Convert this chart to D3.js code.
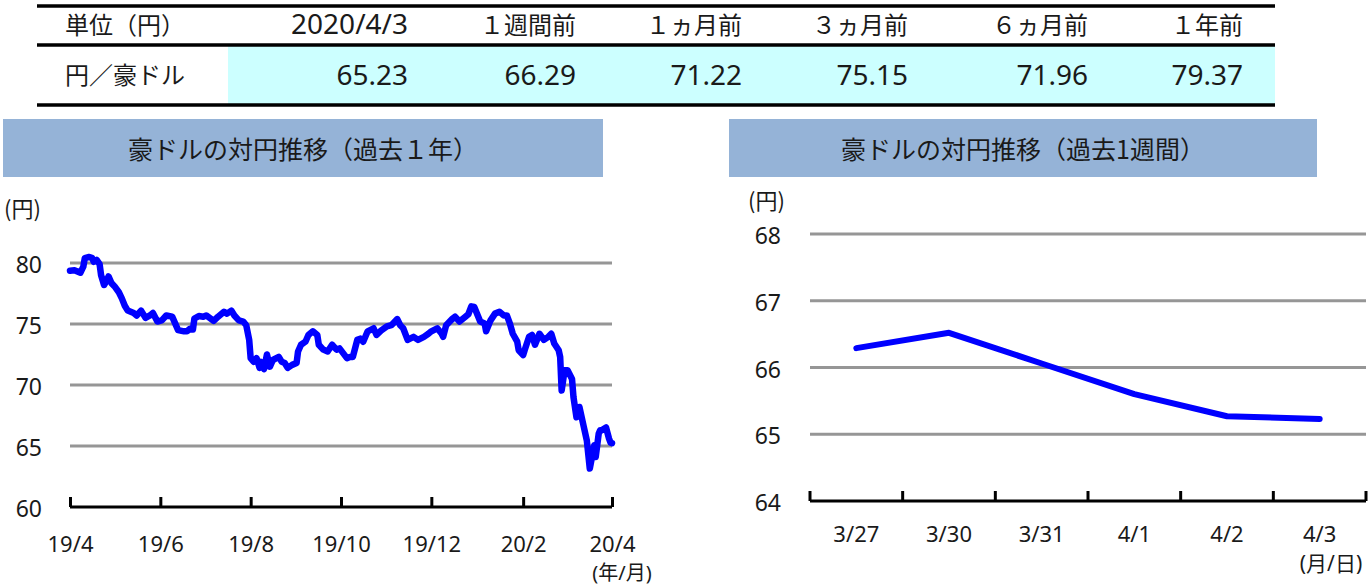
<!DOCTYPE html>
<html><head><meta charset="utf-8">
<script src="https://cdn.jsdelivr.net/npm/d3@7"></script>
<style>
body{margin:0;background:#fff;}
svg{display:block;font-family:"Noto Sans","Noto Sans CJK JP",sans-serif;}
</style></head>
<body>
<svg id="c" width="1369" height="587"></svg>
<script>
// ---- table data ----
const tableHeaders = ["単位（円）","2020/4/3","１週間前","１ヵ月前","３ヵ月前","６ヵ月前","１年前"];
const tableRowLabel = "円／豪ドル";
const tableValues = [65.23, 66.29, 71.22, 75.15, 71.96, 79.37];

// ---- 1-year series ----
const yearDates = ["2019-04-03","2019-04-06","2019-04-10","2019-04-12","2019-04-13","2019-04-16","2019-04-18","2019-04-19","2019-04-21","2019-04-23",
"2019-04-24","2019-04-26","2019-04-28","2019-04-29","2019-05-01","2019-05-03","2019-05-06","2019-05-08","2019-05-10","2019-05-12",
"2019-05-16","2019-05-18","2019-05-21","2019-05-24","2019-05-27","2019-05-29","2019-06-01","2019-06-04","2019-06-07","2019-06-11",
"2019-06-13","2019-06-15","2019-06-19","2019-06-21","2019-06-23","2019-06-25","2019-06-26","2019-06-29","2019-07-02","2019-07-04",
"2019-07-09","2019-07-12","2019-07-16","2019-07-18","2019-07-21","2019-07-23","2019-07-26","2019-07-29","2019-07-31","2019-08-02",
"2019-08-03","2019-08-05","2019-08-07","2019-08-09","2019-08-10","2019-08-12","2019-08-14","2019-08-16","2019-08-18","2019-08-22",
"2019-08-24","2019-08-26","2019-08-28","2019-08-31","2019-09-03","2019-09-04","2019-09-06","2019-09-09","2019-09-11","2019-09-14",
"2019-09-17","2019-09-18","2019-09-21","2019-09-24","2019-09-27","2019-09-30","2019-10-02","2019-10-07","2019-10-09","2019-10-11",
"2019-10-14","2019-10-16","2019-10-18","2019-10-21","2019-10-25","2019-10-27","2019-10-30","2019-11-03","2019-11-06","2019-11-10",
"2019-11-12","2019-11-14","2019-11-17","2019-11-21","2019-11-24","2019-11-28","2019-12-01","2019-12-03","2019-12-07","2019-12-10",
"2019-12-11","2019-12-13","2019-12-17","2019-12-19","2019-12-22","2019-12-26","2019-12-28","2019-12-30","2020-01-01","2020-01-05",
"2020-01-08","2020-01-09","2020-01-12","2020-01-15","2020-01-18","2020-01-21","2020-01-23","2020-01-25","2020-01-27","2020-01-30",
"2020-01-31","2020-02-03","2020-02-04","2020-02-07","2020-02-09","2020-02-11","2020-02-14","2020-02-17","2020-02-20","2020-02-22",
"2020-02-24","2020-02-27","2020-02-28","2020-02-29","2020-03-02","2020-03-04","2020-03-07","2020-03-08","2020-03-10","2020-03-12",
"2020-03-15","2020-03-17","2020-03-19","2020-03-22","2020-03-23","2020-03-25","2020-03-26","2020-03-27","2020-03-30","2020-03-31",
"2020-04-01","2020-04-02","2020-04-03"];
const yearValues = [79.37,79.4,79.2,79.7,80.4,80.5,80.4,80.1,80.25,79.9,
79.0,78.2,78.6,78.9,78.35,78.1,77.6,77.1,76.5,76.1,
75.9,75.7,76.1,75.5,75.7,75.9,75.2,75.3,75.7,75.6,
75.05,74.5,74.4,74.4,74.6,74.55,75.45,75.65,75.6,75.7,
75.25,75.6,76.0,75.85,76.1,75.7,75.3,75.2,74.9,73.7,
72.2,71.9,72.2,71.4,71.9,71.3,72.5,71.5,72.05,72.3,
71.9,71.8,71.4,71.65,71.8,72.75,73.3,73.55,74.1,74.4,
74.1,73.3,72.9,72.75,73.3,72.9,73.0,72.2,72.3,72.3,
73.7,73.8,73.55,74.4,74.65,74.1,74.45,74.8,74.9,75.4,
74.9,74.65,73.7,73.95,73.7,73.95,74.2,74.4,74.65,74.2,
73.95,74.9,75.4,75.6,75.2,75.6,75.8,76.45,76.4,75.2,
75.05,74.4,75.3,75.85,76.0,75.7,75.7,75.05,74.2,73.55,
72.85,72.45,72.85,73.95,74.1,73.3,74.2,73.7,73.95,74.2,
73.4,72.85,72.3,69.55,71.2,71.2,70.5,69.0,67.35,68.2,
66.55,65.45,63.15,65.05,64.1,66.0,66.3,66.29,66.52,66.06,
65.6,65.27,65.23];
const yearTicks = ["2019-04-03","2019-06-03","2019-08-03","2019-10-03","2019-12-03","2020-02-03","2020-04-03"];
const yearTickLabels = ["19/4","19/6","19/8","19/10","19/12","20/2","20/4"];
const yearYTicks = [60,65,70,75,80];

// ---- 1-week series ----
const weekDays = ["3/27","3/30","3/31","4/1","4/2","4/3"];
const weekValues = [66.29, 66.52, 66.06, 65.6, 65.27, 65.23];
const weekYTicks = [64,65,66,67,68];

const svg = d3.select("#c");
const txt = "#1a1a1a";
const CJK = '"Noto Sans CJK JP",sans-serif';

// ================= TABLE =================
const colRight = [null, 408, 576, 742, 908, 1088, 1243];
svg.append("rect").attr("x",228).attr("y",46).attr("width",1275-228).attr("height",58).attr("fill","#CCFFFF");
[6,45,105].forEach(y=>{
  svg.append("line").attr("x1",37).attr("x2",1275).attr("y1",y).attr("y2",y).attr("stroke","#000").attr("stroke-width",3.5);
});
tableHeaders.forEach((h,i)=>{
  const t = svg.append("text").attr("y",34).attr("fill",txt).text(h);
  if(i===0) t.attr("x",65).attr("font-size",24).attr("font-family",CJK);
  else if(i===1) t.attr("x",colRight[i]).attr("text-anchor","end").attr("font-size",28);
  else t.attr("x",colRight[i]).attr("text-anchor","end").attr("font-size",24).attr("font-family",CJK);
});
svg.append("text").attr("x",65).attr("y",84).attr("font-size",24).attr("font-family",CJK).attr("fill",txt).text(tableRowLabel);
tableValues.forEach((v,i)=>{
  svg.append("text").attr("x",colRight[i+1]).attr("y",85).attr("text-anchor","end")
    .attr("font-size",28).attr("fill",txt).text(d3.format(".2f")(v));
});

// ================= TITLE BOXES =================
function titleBox(x,w,label){
  svg.append("rect").attr("x",x).attr("y",119).attr("width",w).attr("height",58).attr("fill","#95B3D7");
  svg.append("text").attr("x",x+w/2).attr("y",159).attr("text-anchor","middle").attr("font-family",CJK)
    .attr("font-size",25).attr("fill",txt).text(label);
}
titleBox(3,600,"豪ドルの対円推移（過去１年）");
titleBox(729,588,"豪ドルの対円推移（過去1週間）");

// ================= LEFT CHART =================
const parse = d3.timeParse("%Y-%m-%d");
const yearData = yearDates.map((d,i)=>({date:parse(d), v:yearValues[i]}));
const xL = d3.scaleTime().domain([parse(yearTicks[0]), parse(yearTicks[yearTicks.length-1])]).range([70,612]);
const yL = d3.scaleLinear().domain([60,80]).range([507,263]);

svg.selectAll("line.gridL").data(yearYTicks.filter(t=>t>60)).join("line").attr("class","gridL")
  .attr("x1",70).attr("x2",612).attr("y1",d=>yL(d)).attr("y2",d=>yL(d))
  .attr("stroke","#969696").attr("stroke-width",3);
svg.selectAll("text.ylL").data(yearYTicks).join("text").attr("class","ylL")
  .attr("x",42).attr("y",d=>yL(d)+10).attr("text-anchor","end")
  .attr("font-size",23).attr("fill",txt).text(d=>d);
svg.append("text").attr("x",4).attr("y",217).attr("font-size",22).attr("font-family",CJK).attr("fill",txt).text("(円)");

const xAxisL = d3.axisBottom(xL).tickValues(yearTicks.map(parse)).tickSize(-10).tickFormat((d,i)=>yearTickLabels[i]);
const axL = svg.append("g").attr("transform","translate(0,507)").call(xAxisL);
axL.select(".domain").attr("stroke","#000").attr("stroke-width",3).attr("d","M70,0H612");
axL.selectAll(".tick line").attr("stroke","#000").attr("stroke-width",3);
axL.selectAll(".tick text").attr("font-size",22).attr("font-family","Noto Sans").attr("fill",txt).attr("dy",0).attr("y",45);
svg.append("text").attr("x",622).attr("y",580).attr("text-anchor","middle").attr("font-size",20).attr("fill",txt).text("(年/月)");

const lineL = d3.line().x(d=>xL(d.date)).y(d=>yL(d.v));
svg.append("path").datum(yearData).attr("d",lineL).attr("fill","none")
  .attr("stroke","#0000FF").attr("stroke-width",6.5).attr("stroke-linejoin","round").attr("stroke-linecap","round");

// ================= RIGHT CHART =================
const xR = d3.scaleBand().domain(weekDays).range([810,1366]);
const yR = d3.scaleLinear().domain([64,68]).range([501,234]);

svg.selectAll("line.gridR").data(weekYTicks.filter(t=>t>64)).join("line").attr("class","gridR")
  .attr("x1",810).attr("x2",1366).attr("y1",d=>yR(d)).attr("y2",d=>yR(d))
  .attr("stroke","#969696").attr("stroke-width",3);
svg.selectAll("text.ylR").data(weekYTicks).join("text").attr("class","ylR")
  .attr("x",781).attr("y",d=>yR(d)+10).attr("text-anchor","end")
  .attr("font-size",23).attr("fill",txt).text(d=>d);
svg.append("text").attr("x",748).attr("y",209).attr("font-size",22).attr("font-family",CJK).attr("fill",txt).text("(円)");

const axR = svg.append("g").attr("transform","translate(0,501)");
axR.append("line").attr("x1",810).attr("x2",1366).attr("stroke","#000").attr("stroke-width",3);
const bounds = weekDays.map(d=>xR(d)).concat([xR.range()[1]]);
axR.selectAll("line.t").data(bounds).join("line").attr("class","t")
  .attr("x1",d=>d).attr("x2",d=>d).attr("y1",0).attr("y2",-10).attr("stroke","#000").attr("stroke-width",3);
axR.selectAll("text.xl").data(weekDays).join("text").attr("class","xl")
  .attr("x",d=>xR(d)+xR.bandwidth()/2).attr("y",41).attr("text-anchor","middle")
  .attr("font-size",22).attr("fill",txt).text(d=>d);
svg.append("text").attr("x",1331).attr("y",571).attr("text-anchor","middle").attr("font-size",21).attr("fill",txt).text("(月/日)");

const lineR = d3.line().x(d=>xR(d.k)+xR.bandwidth()/2).y(d=>yR(d.v));
svg.append("path").datum(weekDays.map((k,i)=>({k,v:weekValues[i]}))).attr("d",lineR)
  .attr("fill","none").attr("stroke","#0000FF").attr("stroke-width",6).attr("stroke-linejoin","round").attr("stroke-linecap","round");
</script>
</body></html>
